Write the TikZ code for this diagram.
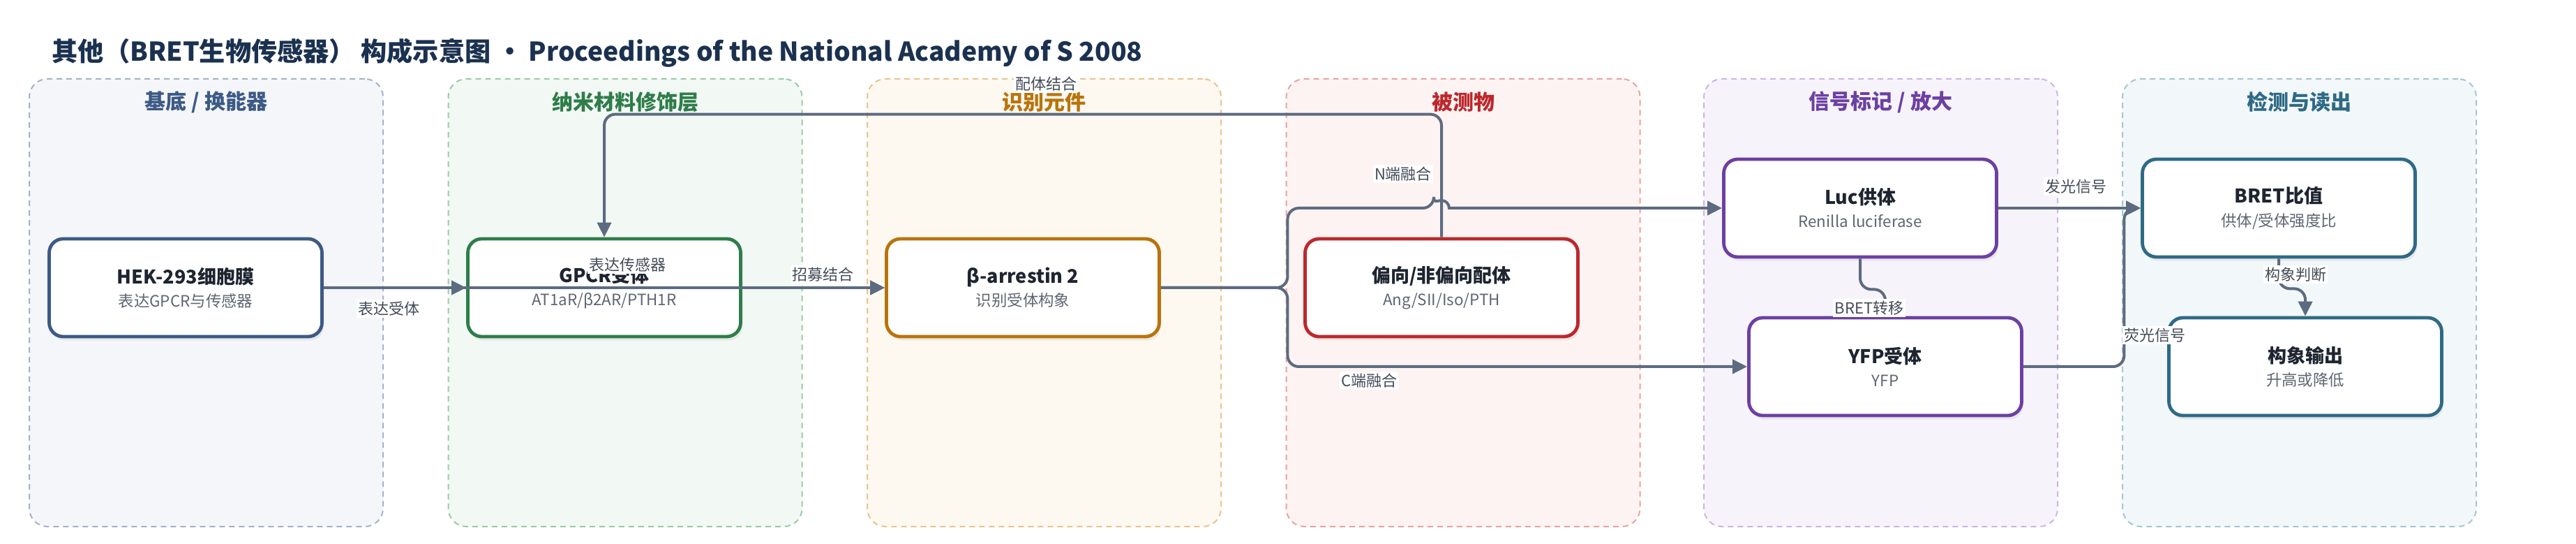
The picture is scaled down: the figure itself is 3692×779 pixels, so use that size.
\documentclass[tikz,border=0pt]{standalone}
\usepackage{fontspec}
\setmainfont{Noto Sans CJK SC}
\usepackage{tikz}
\usetikzlibrary{positioning}
\usetikzlibrary{arrows.meta,shadows}

\definecolor{ink}{HTML}{1B3150}
\definecolor{boxink}{HTML}{1E2530}
\definecolor{subgray}{HTML}{5F6672}
\definecolor{lblgray}{HTML}{444B58}
\definecolor{edge}{HTML}{5C6B80}
% panel colours: title/box, fill, dashed border
\definecolor{c1}{HTML}{3D5A85}\definecolor{f1}{HTML}{F4F6FA}\definecolor{b1}{HTML}{A5B2C8}
\definecolor{c2}{HTML}{2E7D4A}\definecolor{f2}{HTML}{F2F8F3}\definecolor{b2}{HTML}{9CCAA8}
\definecolor{c3}{HTML}{B8740C}\definecolor{f3}{HTML}{FDF8F0}\definecolor{b3}{HTML}{E8C48E}
\definecolor{c4}{HTML}{BC282C}\definecolor{f4}{HTML}{FDF3F2}\definecolor{b4}{HTML}{E8A3A3}
\definecolor{c5}{HTML}{6C40A2}\definecolor{f5}{HTML}{F7F3FB}\definecolor{b5}{HTML}{CBB6E3}
\definecolor{c6}{HTML}{2E6A86}\definecolor{f6}{HTML}{F2F7F9}\definecolor{b6}{HTML}{A6C5D2}

\tikzset{
  panel/.style={dash pattern=on 2pt off 1.5pt, line width=0.5pt, rounded corners=6.5pt,
    minimum width=126.75pt, minimum height=160.25pt},
  ptitle/.style={font=\fontsize{7.5}{9}\selectfont\bfseries},
  box/.style={draw, fill=white, line width=1.2pt, rounded corners=5pt,
    minimum width=97.75pt, minimum height=35pt, align=center,
    font=\fontsize{5.6}{8.3}\selectfont,
    drop shadow={shadow xshift=0.6pt, shadow yshift=-1.4pt, opacity=0.12}},
  flow/.style={draw=edge, line width=1pt, rounded corners=4pt,
    -{Triangle[length=5.25pt,width=5pt]}},
  lbl/.style={fill=white, inner sep=0.6pt, text=lblgray, font=\fontsize{5.5}{6}\selectfont}
}
\newcommand{\boxtext}[2]{{\fontsize{6.75}{8.3}\selectfont\bfseries\color{boxink}#1}\\{\color{subgray}#2}}

\begin{document}
\begin{tikzpicture}[x=0.25pt, y=-0.25pt]
                \useasboundingbox (0,0) rectangle (3692,779);
                \fill[white] (0,0) rectangle (3692,779);

                % Title
                \node at (74,76) (title) [anchor=west, inner sep=0, text=ink, font=\fontsize{9.3}{11}\selectfont\bfseries]
                    {其他（BRET生物传感器） 构成示意图 · Proceedings of the National Academy of S 2008};

                % Panels
                \node at (295.5,433.5) (p1) [panel, draw=b1, fill=f1] {};
                \node at (896,433.5) (p2) [panel, draw=b2, fill=f2] {};
                \node at (1496.5,433.5) (p3) [panel, draw=b3, fill=f3] {};
                \node at (2097,433.5) (p4) [panel, draw=b4, fill=f4] {};
                \node at (2695.5,433.5) (p5) [panel, draw=b5, fill=f5] {};
                \node at (3295.5,433.5) (p6) [panel, draw=b6, fill=f6] {};
                \node at (295.5,146) (t1) [ptitle, text=c1] {基底 / 换能器};
                \node at (896,146) (t2) [ptitle, text=c2] {纳米材料修饰层};
                \node at (1496.5,146) (t3) [ptitle, text=c3] {识别元件};
                \node at (2097,146) (t4) [ptitle, text=c4] {被测物};
                \node at (2695.5,146) (t5) [ptitle, text=c5] {信号标记 / 放大};
                \node at (3295.5,146) (t6) [ptitle, text=c6] {检测与读出};

                % Nodes
                \node at (266,412) (hek) [box, draw=c1] {\boxtext{HEK-293细胞膜}{表达GPCR与传感器}};
                \node at (866,412) (gpcr) [box, draw=c2] {\boxtext{GPCR受体}{AT1aR/β2AR/PTH1R}};
                \node at (1466,412) (barr) [box, draw=c3] {\boxtext{β-arrestin 2}{识别受体构象}};
                \node at (2066,412) (lig) [box, draw=c4] {\boxtext{偏向/非偏向配体}{Ang/SII/Iso/PTH}};
                \node at (2666,298) (luc) [box, draw=c5] {\boxtext{Luc供体}{Renilla luciferase}};
                \node at (2702,525) (yfp) [box, draw=c5] {\boxtext{YFP受体}{YFP}};
                \node at (3266,298) (bret) [box, draw=c6] {\boxtext{BRET比值}{供体/受体强度比}};
                \node at (3304,525) (out) [box, draw=c6] {\boxtext{构象输出}{升高或降低}};

                % Arrows
                \draw[flow] (hek) -- (gpcr);
                \draw[flow] (hek) -- (barr);
                \draw[flow] (gpcr) -- (barr);
                \draw[flow] (lig.north) -- ++(0,-176) -| (gpcr.north);
                \draw[flow] (barr.east) -- ++(181.5,0) |- (2055,298) [sharp corners]
                    arc[start angle=180, end angle=360, radius=11] -- (luc.west);
                \draw[flow] (barr.east) -- ++(181.5,0) |- (yfp.west);
                \draw[flow] (luc) -- (bret);
                \draw[flow] (yfp.east) -- ++(144.5,0) |- (bret.west);
                \draw[flow] (luc.south) -- ++(0,44) -| (yfp.north);
                \draw[flow] (bret.south) -- ++(0,43) -| (out.north);

                % Edge labels
                \node at (557,442) (l1) [lbl] {表达受体};
                \node at (899,379) (l2) [lbl] {表达传感器};
                \node at (1179,393) (l3) [lbl] {招募结合};
                \node at (1499,120) (l4) [lbl] {配体结合};
                \node at (2011,249) (l5) [lbl] {N端融合};
                \node at (1962,545) (l6) [lbl] {C端融合};
                \node at (2975,267) (l7) [lbl] {发光信号};
                \node at (3088,480) (l8) [lbl] {荧光信号};
                \node at (2679,441) (l9) [lbl] {BRET转移};
                \node at (3290,393) (l10) [lbl] {构象判断};

            \end{tikzpicture}
\end{document}
